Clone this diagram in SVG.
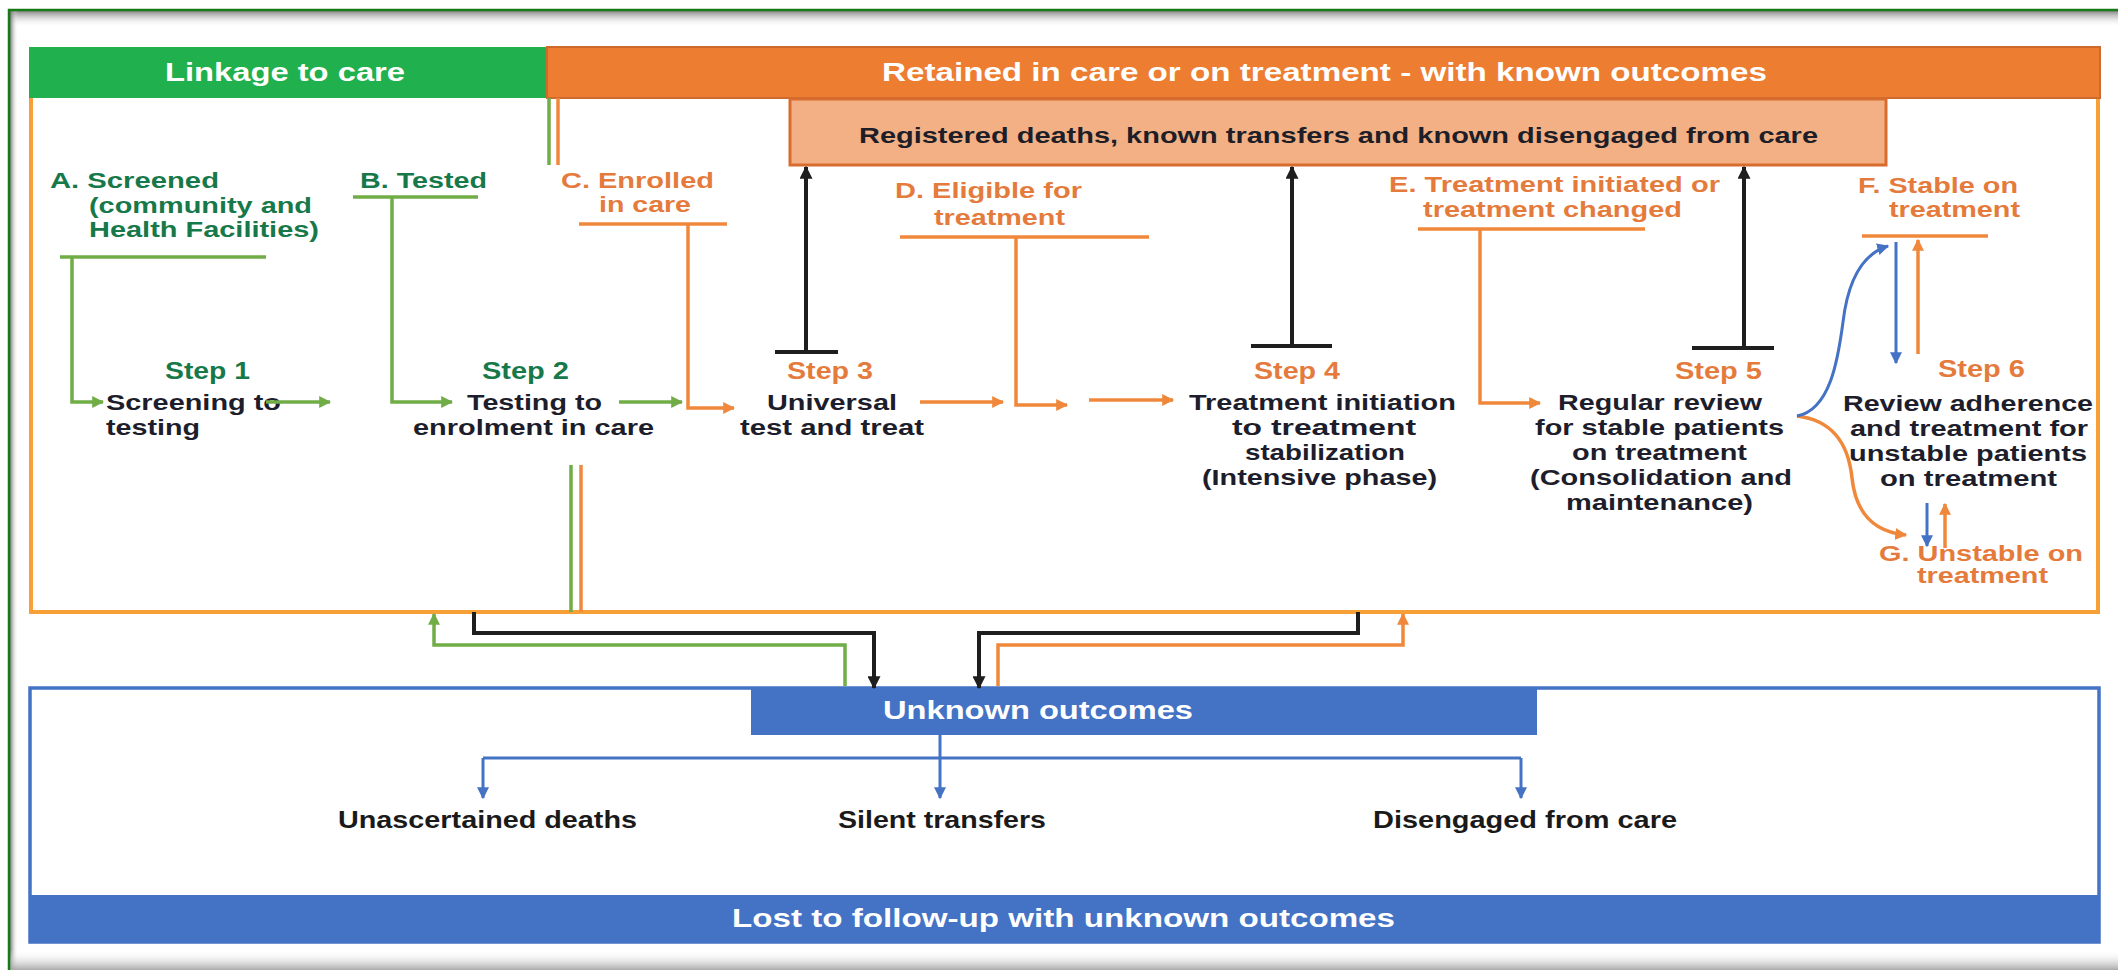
<svg xmlns="http://www.w3.org/2000/svg" width="2118" height="973" viewBox="0 0 2118 973">
  <style>
    text { font-family: "Liberation Sans", Arial, sans-serif; font-weight: bold; }
    .hdr { fill: #ffffff; font-size: 26px; }
    .reg { fill: #1e1e28; font-size: 22px; }
    .gl { fill: #17794a; font-size: 22px; }
    .ol { fill: #e47b3c; font-size: 22px; }
    .step { font-size: 23px; }
    .desc { fill: #1d1d2b; font-size: 22px; }
    .blt { fill: #ffffff; font-size: 25px; }
    .bd { fill: #1a1a1a; font-size: 24px; }
    .g { stroke: #70ad47; stroke-width: 3.5; fill: none; }
    .o { stroke: #f0883c; stroke-width: 3.5; fill: none; }
    .k { stroke: #1e1e1e; stroke-width: 4; fill: none; }
    .b { stroke: #4472c4; stroke-width: 3; fill: none; }
  </style>
  <defs>
    <marker id="ah-g" viewBox="0 0 10 10" refX="9" refY="5" markerWidth="12" markerHeight="12" markerUnits="userSpaceOnUse" orient="auto"><path d="M0,0 L10,5 L0,10 z" fill="#70ad47"/></marker>
    <marker id="ah-o" viewBox="0 0 10 10" refX="9" refY="5" markerWidth="12" markerHeight="12" markerUnits="userSpaceOnUse" orient="auto"><path d="M0,0 L10,5 L0,10 z" fill="#f0883c"/></marker>
    <marker id="ah-k" viewBox="0 0 10 10" refX="9" refY="5" markerWidth="13" markerHeight="13" markerUnits="userSpaceOnUse" orient="auto"><path d="M0,0 L10,5 L0,10 z" fill="#1e1e1e"/></marker>
    <marker id="ah-b" viewBox="0 0 10 10" refX="9" refY="5" markerWidth="12" markerHeight="12" markerUnits="userSpaceOnUse" orient="auto"><path d="M0,0 L10,5 L0,10 z" fill="#4472c4"/></marker>
    <linearGradient id="sh-top" x1="0" y1="0" x2="0" y2="1">
      <stop offset="0" stop-color="#7a7a7a" stop-opacity="0.9"/>
      <stop offset="1" stop-color="#ffffff" stop-opacity="0"/>
    </linearGradient>
    <linearGradient id="sh-left" x1="0" y1="0" x2="1" y2="0">
      <stop offset="0" stop-color="#6a6a6a" stop-opacity="0.9"/>
      <stop offset="1" stop-color="#ffffff" stop-opacity="0"/>
    </linearGradient>
    <linearGradient id="sh-bot" x1="0" y1="0" x2="0" y2="1">
      <stop offset="0" stop-color="#ffffff" stop-opacity="0"/>
      <stop offset="1" stop-color="#a0a0a0" stop-opacity="0.9"/>
    </linearGradient>
  </defs>

  <!-- page frame with inner shadow -->
  <g id="frame">
    <rect x="0" y="0" width="2118" height="973" fill="#ffffff"/>
    <rect x="10" y="11" width="2108" height="16" fill="url(#sh-top)"/>
    <rect x="10" y="11" width="8" height="958" fill="url(#sh-left)"/>
    <rect x="10" y="950" width="2108" height="20" fill="url(#sh-bot)"/>
    <path d="M9,970 V10 H2118" stroke="#177a17" stroke-width="2.5" fill="none"/>
  </g>

  <!-- retained-in-care panel -->
  <g id="care-panel">
    <path d="M31,98 V612 H2098 V98" stroke="#f7a035" stroke-width="4" fill="none"/>
  </g>

  <g id="hdr-linkage">
    <rect x="29" y="47" width="518" height="51" fill="#21b04e"/>
    <text class="hdr" x="165" y="81" textLength="240" lengthAdjust="spacingAndGlyphs">Linkage to care</text>
  </g>
  <g id="hdr-retained">
    <rect x="547" y="47" width="1553" height="51" fill="#ed7d31" stroke="#cf6a2e" stroke-width="2"/>
    <text class="hdr" x="882" y="81" textLength="885" lengthAdjust="spacingAndGlyphs">Retained in care or on treatment - with known outcomes</text>
  </g>
  <g id="known-outcomes">
    <rect x="790" y="99" width="1096" height="66" fill="#f3b084" stroke="#d86c2e" stroke-width="3"/>
    <text class="reg" x="859" y="143" textLength="959" lengthAdjust="spacingAndGlyphs">Registered deaths, known transfers and known disengaged from care</text>
  </g>

  <!-- milestone labels -->
  <g id="label-a">
    <text class="gl" x="50" y="188" textLength="169" lengthAdjust="spacingAndGlyphs">A. Screened</text>
    <text class="gl" x="89" y="213" textLength="223" lengthAdjust="spacingAndGlyphs">(community and</text>
    <text class="gl" x="89" y="237" textLength="230" lengthAdjust="spacingAndGlyphs">Health Facilities)</text>
  </g>
  <g id="label-b">
    <text class="gl" x="360" y="188" textLength="127" lengthAdjust="spacingAndGlyphs">B. Tested</text>
  </g>
  <g id="label-c">
    <text class="ol" x="561" y="188" textLength="153" lengthAdjust="spacingAndGlyphs">C. Enrolled</text>
    <text class="ol" x="599" y="212" textLength="92" lengthAdjust="spacingAndGlyphs">in care</text>
  </g>
  <g id="label-d">
    <text class="ol" x="895" y="198" textLength="187" lengthAdjust="spacingAndGlyphs">D. Eligible for</text>
    <text class="ol" x="934" y="225" textLength="131" lengthAdjust="spacingAndGlyphs">treatment</text>
  </g>
  <g id="label-e">
    <text class="ol" x="1389" y="192" textLength="331" lengthAdjust="spacingAndGlyphs">E. Treatment initiated or</text>
    <text class="ol" x="1423" y="217" textLength="259" lengthAdjust="spacingAndGlyphs">treatment changed</text>
  </g>
  <g id="label-f">
    <text class="ol" x="1858" y="193" textLength="160" lengthAdjust="spacingAndGlyphs">F. Stable on</text>
    <text class="ol" x="1889" y="217" textLength="131" lengthAdjust="spacingAndGlyphs">treatment</text>
  </g>
  <g id="label-g">
    <text class="ol" x="1879" y="561" textLength="204" lengthAdjust="spacingAndGlyphs">G. Unstable on</text>
    <text class="ol" x="1917" y="583" textLength="131" lengthAdjust="spacingAndGlyphs">treatment</text>
  </g>

  <!-- steps -->
  <g id="step-1">
    <text class="gl step" x="165" y="379" textLength="85" lengthAdjust="spacingAndGlyphs">Step 1</text>
    <text class="desc" x="106" y="410" textLength="175" lengthAdjust="spacingAndGlyphs">Screening to</text>
    <text class="desc" x="106" y="435" textLength="94" lengthAdjust="spacingAndGlyphs">testing</text>
  </g>
  <g id="step-2">
    <text class="gl step" x="482" y="379" textLength="87" lengthAdjust="spacingAndGlyphs">Step 2</text>
    <text class="desc" x="467" y="410" textLength="135" lengthAdjust="spacingAndGlyphs">Testing to</text>
    <text class="desc" x="413" y="435" textLength="241" lengthAdjust="spacingAndGlyphs">enrolment in care</text>
  </g>
  <g id="step-3">
    <text class="ol step" x="787" y="379" textLength="86" lengthAdjust="spacingAndGlyphs">Step 3</text>
    <text class="desc" x="767" y="410" textLength="130" lengthAdjust="spacingAndGlyphs">Universal</text>
    <text class="desc" x="740" y="435" textLength="184" lengthAdjust="spacingAndGlyphs">test and treat</text>
  </g>
  <g id="step-4">
    <text class="ol step" x="1254" y="379" textLength="86" lengthAdjust="spacingAndGlyphs">Step 4</text>
    <text class="desc" x="1189" y="410" textLength="267" lengthAdjust="spacingAndGlyphs">Treatment initiation</text>
    <text class="desc" x="1232" y="435" textLength="184" lengthAdjust="spacingAndGlyphs">to treatment</text>
    <text class="desc" x="1245" y="460" textLength="160" lengthAdjust="spacingAndGlyphs">stabilization</text>
    <text class="desc" x="1202" y="485" textLength="235" lengthAdjust="spacingAndGlyphs">(Intensive phase)</text>
  </g>
  <g id="step-5">
    <text class="ol step" x="1675" y="379" textLength="87" lengthAdjust="spacingAndGlyphs">Step 5</text>
    <text class="desc" x="1558" y="410" textLength="204" lengthAdjust="spacingAndGlyphs">Regular review</text>
    <text class="desc" x="1535" y="435" textLength="249" lengthAdjust="spacingAndGlyphs">for stable patients</text>
    <text class="desc" x="1572" y="460" textLength="175" lengthAdjust="spacingAndGlyphs">on treatment</text>
    <text class="desc" x="1530" y="485" textLength="262" lengthAdjust="spacingAndGlyphs">(Consolidation and</text>
    <text class="desc" x="1566" y="510" textLength="187" lengthAdjust="spacingAndGlyphs">maintenance)</text>
  </g>
  <g id="step-6">
    <text class="ol step" x="1938" y="377" textLength="87" lengthAdjust="spacingAndGlyphs">Step 6</text>
    <text class="desc" x="1843" y="411" textLength="250" lengthAdjust="spacingAndGlyphs">Review adherence</text>
    <text class="desc" x="1850" y="436" textLength="238" lengthAdjust="spacingAndGlyphs">and treatment for</text>
    <text class="desc" x="1849" y="461" textLength="238" lengthAdjust="spacingAndGlyphs">unstable patients</text>
    <text class="desc" x="1880" y="486" textLength="177" lengthAdjust="spacingAndGlyphs">on treatment</text>
  </g>

  <!-- unknown outcomes panel -->
  <g id="lost-panel">
    <rect x="30" y="688" width="2069" height="254" fill="#ffffff" stroke="#4472c4" stroke-width="3.5"/>
    <rect x="30" y="895" width="2069" height="47" fill="#4472c4"/>
    <text class="blt" x="732" y="927" textLength="663" lengthAdjust="spacingAndGlyphs">Lost to follow-up with unknown outcomes</text>
  </g>
  <g id="unknown-outcomes">
    <rect x="751" y="688" width="786" height="47" fill="#4472c4"/>
    <text class="blt" x="883" y="719" textLength="310" lengthAdjust="spacingAndGlyphs">Unknown outcomes</text>
  </g>
  <g id="out-deaths">
    <text class="bd" x="338" y="828" textLength="299" lengthAdjust="spacingAndGlyphs">Unascertained deaths</text>
  </g>
  <g id="out-transfers">
    <text class="bd" x="838" y="828" textLength="208" lengthAdjust="spacingAndGlyphs">Silent transfers</text>
  </g>
  <g id="out-disengaged">
    <text class="bd" x="1373" y="828" textLength="304" lengthAdjust="spacingAndGlyphs">Disengaged from care</text>
  </g>

  <!-- connectors -->
  <g id="connectors">
    <!-- linkage (green) -->
    <path class="g" d="M549,98 V165"/>
    <path class="g" d="M60,257 H266"/>
    <path class="g" d="M72,257 V402 H103" marker-end="url(#ah-g)"/>
    <path class="g" d="M266,402 H330" marker-end="url(#ah-g)"/>
    <path class="g" d="M353,197 H478"/>
    <path class="g" d="M392,197 V402 H452" marker-end="url(#ah-g)"/>
    <path class="g" d="M619,402 H682" marker-end="url(#ah-g)"/>
    <path class="g" d="M571,465 V612"/>
    <path class="g" d="M845,686 V645 H434 V614" marker-end="url(#ah-g)"/>

    <!-- retained (orange) -->
    <path class="o" d="M558,98 V165"/>
    <path class="o" d="M579,224 H727"/>
    <path class="o" d="M688,224 V408 H734" marker-end="url(#ah-o)"/>
    <path class="o" d="M920,402 H1003" marker-end="url(#ah-o)"/>
    <path class="o" d="M900,237 H1149"/>
    <path class="o" d="M1016,237 V405 H1067" marker-end="url(#ah-o)"/>
    <path class="o" d="M1089,400 H1173" marker-end="url(#ah-o)"/>
    <path class="o" d="M1418,229 H1645"/>
    <path class="o" d="M1480,229 V403 H1540" marker-end="url(#ah-o)"/>
    <path class="o" d="M1862,236 H1988"/>
    <path class="o" d="M1918,354 V240" marker-end="url(#ah-o)"/>
    <path class="o" d="M1797,416 C1830,420 1848,440 1852,478 C1856,515 1875,532 1906,535" marker-end="url(#ah-o)"/>
    <path class="o" d="M1945,548 V504" marker-end="url(#ah-o)"/>
    <path class="o" d="M581,465 V612"/>
    <path class="o" d="M998,686 V645 H1403 V614" marker-end="url(#ah-o)"/>

    <!-- known outcomes (black) -->
    <path class="k" d="M775,352 H838"/>
    <path class="k" d="M806,352 V167" marker-end="url(#ah-k)"/>
    <path class="k" d="M1251,346 H1332"/>
    <path class="k" d="M1292,346 V167" marker-end="url(#ah-k)"/>
    <path class="k" d="M1692,348 H1774"/>
    <path class="k" d="M1744,348 V167" marker-end="url(#ah-k)"/>
    <path class="k" d="M474,612 V633 H874 V688" marker-end="url(#ah-k)"/>
    <path class="k" d="M1358,612 V633 H979 V688" marker-end="url(#ah-k)"/>

    <!-- unknown outcomes (blue) -->
    <path class="b" d="M940,735 V758"/>
    <path class="b" d="M483,758 H1521"/>
    <path class="b" d="M483,758 V798" marker-end="url(#ah-b)"/>
    <path class="b" d="M940,758 V798" marker-end="url(#ah-b)"/>
    <path class="b" d="M1521,758 V798" marker-end="url(#ah-b)"/>
    <path class="b" d="M1797,416 C1830,410 1838,360 1843,322 C1848,280 1862,254 1888,246" marker-end="url(#ah-b)"/>
    <path class="b" d="M1896,242 V363" marker-end="url(#ah-b)"/>
    <path class="b" d="M1927,503 V546" marker-end="url(#ah-b)"/>
  </g>
</svg>
